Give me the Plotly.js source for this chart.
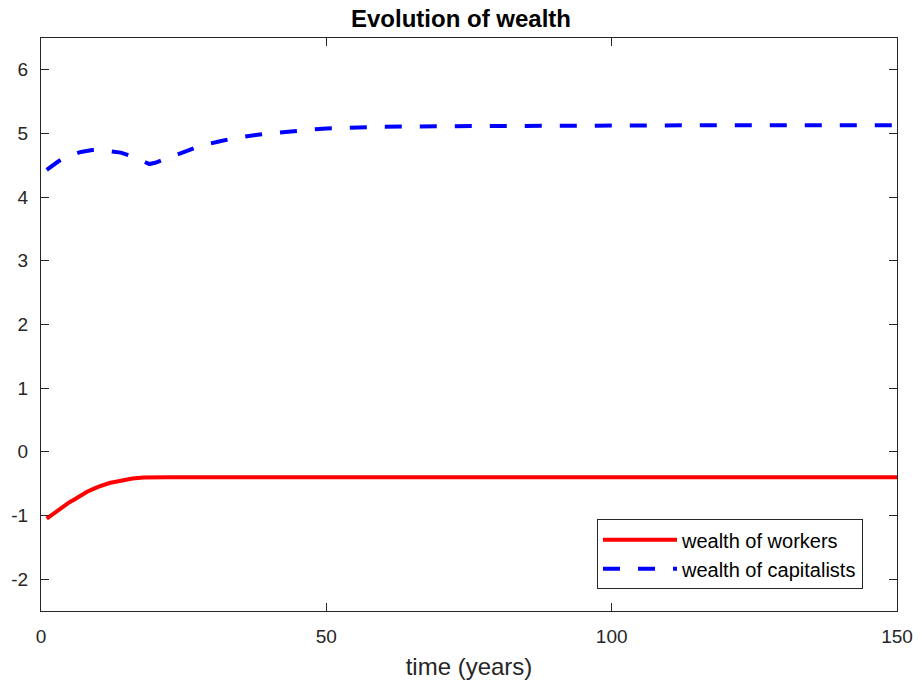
<!DOCTYPE html>
<html>
<head>
<meta charset="utf-8">
<script src="https://cdn.plot.ly/plotly-3.0.1.min.js"></script>
<style>html,body{margin:0;padding:0;background:#fff;}#chart{width:922px;height:687px;}</style>
</head>
<body>
<div id="chart"></div>
<script>
const time = [1,2,3,4,5,6,7,8,9,10,12,14,16,18,19,20,22,25,28,31,34,38,41,44,47,50,55,60,70,80,90,100,120,150];
const workers = [-1.05,-0.98,-0.91,-0.85,-0.79,-0.74,-0.68,-0.63,-0.59,-0.55,-0.49,-0.45,-0.42,-0.405,-0.40,-0.40,-0.40,-0.40,-0.40,-0.40,-0.40,-0.40,-0.40,-0.40,-0.40,-0.40,-0.40,-0.40,-0.40,-0.40,-0.40,-0.40,-0.40,-0.40];
const capitalists = [4.43,4.50,4.56,4.61,4.65,4.68,4.71,4.73,4.74,4.745,4.73,4.70,4.64,4.57,4.52,4.54,4.61,4.72,4.81,4.87,4.93,4.98,5.01,5.04,5.06,5.08,5.095,5.105,5.115,5.12,5.125,5.127,5.13,5.13];
const seriesNames = ['wealth of workers','wealth of capitalists'];
const titleText = 'Evolution of wealth';
const xLabel = 'time (years)';
const xTicks = [0,50,100,150];
const yTicks = [-2,-1,0,1,2,3,4,5,6];

const font = 'Liberation Sans, Arial, Helvetica, sans-serif';
const axCol = '#262626';
const traces = [
  {x: time, y: workers, name: seriesNames[0], mode: 'lines', line: {color: '#ff0000', width: 4}},
  {x: time, y: capitalists, name: seriesNames[1], mode: 'lines', line: {color: '#0000ff', width: 4, dash: '17px,18px'}}
];
const axisCommon = {
  showgrid: false, zeroline: false, showline: true, mirror: 'allticks',
  linecolor: axCol, linewidth: 1, ticks: 'inside', ticklen: 8, tickcolor: axCol,
  tickfont: {family: font, size: 19, color: axCol}
};
const layout = {
  width: 922, height: 687,
  margin: {l: 41, r: 25, t: 38, b: 76},
  paper_bgcolor: '#fff', plot_bgcolor: '#fff',
  title: {text: '<b>' + titleText + '</b>', font: {family: font, size: 24, color: '#000'}, x: 0.5, xanchor: 'center', y: 0.973, yanchor: 'middle'},
  xaxis: Object.assign({}, axisCommon, {range: [0, 150], tickvals: xTicks, ticktext: xTicks.map(String), ticklabelstandoff: 8,
    title: {text: xLabel, font: {family: font, size: 24, color: axCol}, standoff: 12}}),
  yaxis: Object.assign({}, axisCommon, {range: [-2.5, 6.5], tickvals: yTicks, ticktext: yTicks.map(String), ticklabelstandoff: 8}),
  showlegend: true,
  legend: {x: 0.6495, xanchor: 'left', y: 0.038, yanchor: 'bottom', bgcolor: '#fff', bordercolor: axCol, borderwidth: 1,
    font: {family: font, size: 20, color: '#000'}, itemwidth: 74, tracegroupgap: 0}
};
Plotly.newPlot('chart', traces, layout, {displayModeBar: false, staticPlot: true});
</script>
</body>
</html>
